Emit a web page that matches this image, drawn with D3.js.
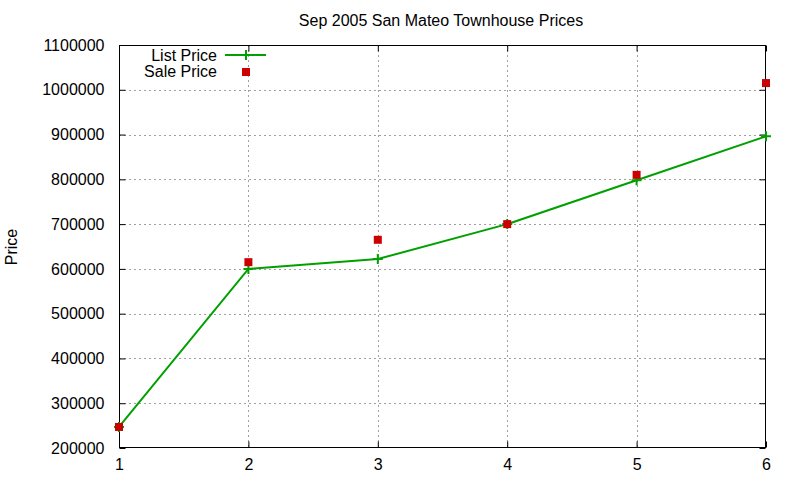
<!DOCTYPE html>
<html>
<head>
<meta charset="utf-8">
<script src="https://cdn.jsdelivr.net/npm/d3@7"></script>
<style>
  body { margin: 0; background: #fff; }
  text { font-family: "Liberation Sans", Arial, sans-serif; font-size: 16px; fill: #000; }
</style>
</head>
<body>
<div id="chart"></div>
<script>
// data
const months = [1, 2, 3, 4, 5, 6];
const listPrice = [247000, 600000, 622000, 700000, 798000, 896000];
const salePrice = [247000, 615000, 665000, 700000, 810000, 1015000];
const yTicks = [200000, 300000, 400000, 500000, 600000, 700000, 800000, 900000, 1000000, 1100000];

const width = 800, height = 480;
const plot = { left: 119, right: 766, top: 45, bottom: 448 };

const svg = d3.select('#chart')
  .append('svg')
  .attr('width', width)
  .attr('height', height);

let x = d3.scaleLinear().domain([1, 6]).range([plot.left, plot.right]);
let y = d3.scaleLinear().domain([200000, 1100000]).range([plot.bottom, plot.top]);

// grid (dotted grey)
let grid = svg.append('g').attr('stroke', '#a0a0a0').attr('stroke-dasharray', '2,3').attr('stroke-width', 1);
grid.selectAll('.gy')
  .data(yTicks.slice(1, -1))
  .enter().append('line')
  .attr('x1', plot.left).attr('x2', plot.right)
  .attr('y1', d => Math.round(y(d)) + 0.5).attr('y2', d => Math.round(y(d)) + 0.5);
grid.selectAll('.gx')
  .data(months.slice(1, -1))
  .enter().append('line')
  .attr('y1', plot.top).attr('y2', plot.bottom)
  .attr('x1', d => Math.round(x(d)) + 0.5).attr('x2', d => Math.round(x(d)) + 0.5);

// axes, ticks inside like gnuplot
let leftAxis = d3.axisLeft(y).tickValues(yTicks).tickSizeInner(-6).tickSizeOuter(0).tickPadding(15).tickFormat(d3.format('d'));
let rightAxis = d3.axisRight(y).tickValues(yTicks).tickSizeInner(-6).tickSizeOuter(0).tickFormat('');
let bottomAxis = d3.axisBottom(x).tickValues(months).tickSizeInner(-6).tickSizeOuter(0).tickPadding(11).tickFormat(d3.format('d'));
let topAxis = d3.axisTop(x).tickValues(months).tickSizeInner(-6).tickSizeOuter(0).tickFormat('');

function styleAxis(g) {
  g.select('.domain').remove();
  g.selectAll('line').attr('stroke', '#000');
  g.selectAll('text').style('font-size', '16px').style('font-family', '"Liberation Sans", Arial, sans-serif');
}
svg.append('g').attr('transform', `translate(${plot.left + 0.5},0)`).call(leftAxis).call(styleAxis);
svg.append('g').attr('transform', `translate(${plot.right - 0.5},0)`).call(rightAxis).call(styleAxis);
svg.append('g').attr('transform', `translate(0,${plot.bottom - 0.5})`).call(bottomAxis).call(styleAxis);
svg.append('g').attr('transform', `translate(0,${plot.top + 0.5})`).call(topAxis).call(styleAxis);

// border
svg.append('rect')
  .attr('x', plot.left + 0.5).attr('y', plot.top + 0.5)
  .attr('width', plot.right - plot.left - 1).attr('height', plot.bottom - plot.top - 1)
  .attr('fill', 'none').attr('stroke', '#000').attr('stroke-width', 1);

const green = '#00a000', red = '#cc0000';

// list price line with + markers
let line = d3.line().x((d, i) => x(months[i])).y(d => y(d));
svg.append('path')
  .datum(listPrice)
  .attr('d', line)
  .attr('fill', 'none').attr('stroke', green).attr('stroke-width', 2);

function plus(g, cx, cy) {
  g.append('path')
    .attr('d', `M${cx - 5},${cy}H${cx + 5}M${cx},${cy - 5}V${cy + 5}`)
    .attr('stroke', green).attr('stroke-width', 2);
}
let marks = svg.append('g');
listPrice.forEach((v, i) => plus(marks, x(months[i]), y(v)));

// sale price squares
svg.append('g').selectAll('rect')
  .data(salePrice)
  .enter().append('rect')
  .attr('x', (d, i) => x(months[i]) - 4)
  .attr('y', d => y(d) - 4)
  .attr('width', 8).attr('height', 8)
  .attr('fill', red);

// legend
let legend = svg.append('g');
legend.append('text').attr('x', 217).attr('y', 61).attr('text-anchor', 'end').text('List Price');
legend.append('line').attr('x1', 225).attr('x2', 266).attr('y1', 55).attr('y2', 55).attr('stroke', green).attr('stroke-width', 2);
plus(legend, 246, 55);
legend.append('text').attr('x', 217).attr('y', 77).attr('text-anchor', 'end').text('Sale Price');
legend.append('rect').attr('x', 242).attr('y', 68).attr('width', 8).attr('height', 8).attr('fill', red);

// title and y label
svg.append('text')
  .attr('x', 441).attr('y', 26)
  .attr('text-anchor', 'middle')
  .text('Sep 2005 San Mateo Townhouse Prices');

svg.append('text')
  .attr('transform', 'translate(17,247) rotate(-90)')
  .attr('text-anchor', 'middle')
  .text('Price');
</script>
</body>
</html>
